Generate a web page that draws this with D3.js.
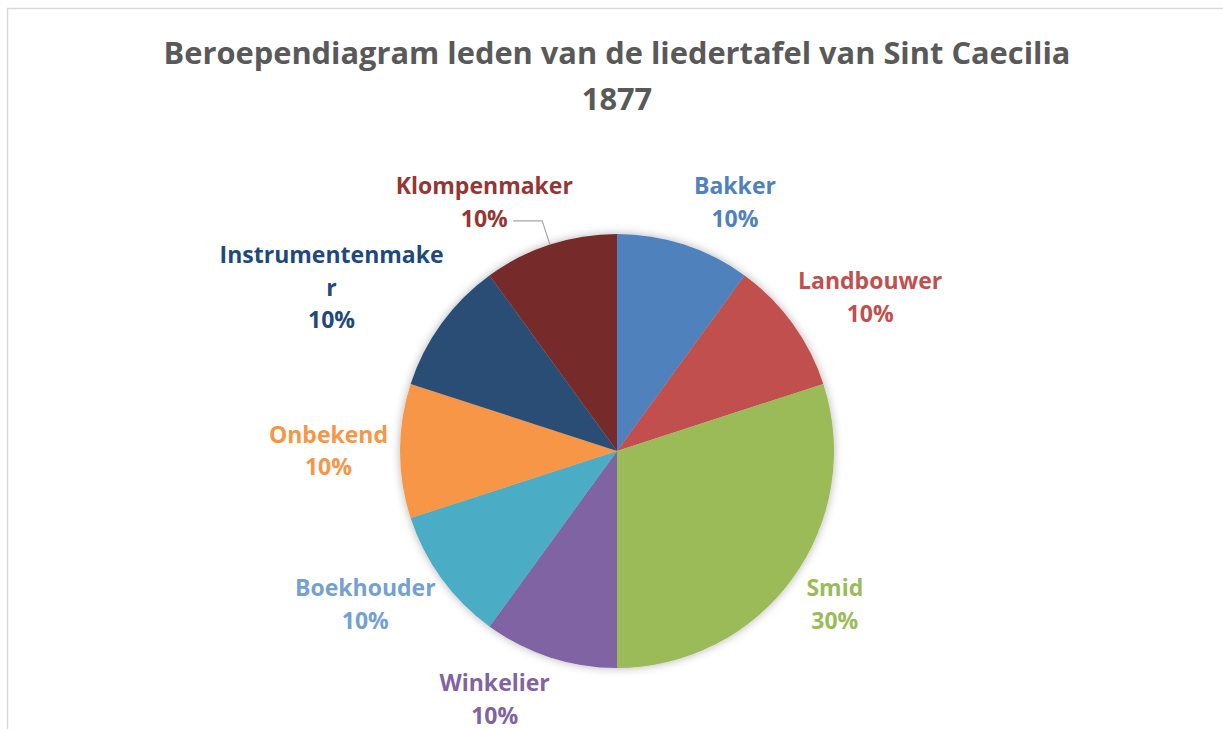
<!DOCTYPE html>
<html>
<head>
<meta charset="utf-8">
<script src="https://cdn.jsdelivr.net/npm/d3@7"></script>
<style>
  body { margin: 0; background: #fff; }
  svg { display: block; font-family: "Open Sans", "Noto Sans", sans-serif; font-weight: bold; }
</style>
</head>
<body>
<div id="chart"></div>
<script>
let categories = ['Bakker','Landbouwer','Smid','Winkelier','Boekhouder','Onbekend','Instrumentenmaker','Klompenmaker'];
let counts = [1,1,3,1,1,1,1,1];
let sliceColors = ['#4F81BD','#C0504D','#9BBB59','#8064A2','#4BACC6','#F79646','#2C4D75','#772C2A'];
let labelColors = ['#4F81BD','#C0504D','#9BBB59','#8064A2','#75A0D2','#F79646','#1F497D','#943634'];
let titleLines = ['Beroependiagram leden van de liedertafel van Sint Caecilia','1877'];
let leaders = ['Klompenmaker'];

let width = 1223,
	height = 729,
	cx = 617,
	cy = 451,
	radius = 217,
	labelR = 229,
	lineH = 32.5,
	wrapW = 226,
	titleW = 907;

let svg = d3.select('#chart').append('svg')
	.attr('width', width)
	.attr('height', height);

// chart frame
svg.append('rect')
	.attr('x', 7.5).attr('y', 8.5)
	.attr('width', width).attr('height', height)
	.attr('fill', 'none')
	.attr('stroke', '#d9d9d9')
	.attr('stroke-width', 1.5);

let title = svg.append('text')
	.attr('text-anchor', 'middle')
	.attr('fill', '#595959')
	.style('font-size', '30px');
title.selectAll('tspan')
	.data(titleLines)
	.enter().append('tspan')
		.attr('x', 617)
		.attr('y', (d, i) => 64 + i * 46)
		.text(d => d);
// scale the title so the first line spans the same width as the original
let tw = title.select('tspan').node().getComputedTextLength();
title.style('font-size', (30 * titleW / tw) + 'px');

let defs = svg.append('defs');
let glow = defs.append('filter').attr('id', 'glow')
	.attr('x', '-20%').attr('y', '-20%').attr('width', '140%').attr('height', '140%');
glow.append('feGaussianBlur').attr('in', 'SourceAlpha').attr('stdDeviation', 5).attr('result', 'b');
glow.append('feComponentTransfer').attr('in', 'b').attr('result', 's')
	.append('feFuncA').attr('type', 'linear').attr('slope', 0.3);
let merge = glow.append('feMerge');
merge.append('feMergeNode').attr('in', 's');
merge.append('feMergeNode').attr('in', 'SourceGraphic');

let pie = d3.pie().sort(null).value(d => d);
let arcs = pie(counts);
let total = d3.sum(counts);
let arc = d3.arc().innerRadius(0).outerRadius(radius);

let g = svg.append('g').attr('transform', `translate(${cx},${cy})`);

g.append('g').attr('filter', 'url(#glow)')
	.selectAll('path')
	.data(arcs)
	.enter().append('path')
		.attr('d', arc)
		.attr('fill', (d, i) => sliceColors[i]);

// split a label into lines no wider than wrapW
function wrap(word, probe) {
	let lines = [], cur = '';
	for (let ch of word) {
		probe.text(cur + ch);
		if (cur && probe.node().getComputedTextLength() > wrapW) { lines.push(cur); cur = ch; }
		else cur += ch;
	}
	lines.push(cur);
	return lines;
}

let labels = g.append('g').style('font-size', '23px');
let probe = labels.append('text');

arcs.forEach((d, i) => {
	let a = (d.startAngle + d.endAngle) / 2,
		s = Math.sin(a),
		c = Math.cos(a);
	let lines = wrap(categories[i], probe);
	lines.push(d3.format('.0%')(d.value / total));
	let t = labels.append('text')
		.attr('text-anchor', 'middle')
		.attr('fill', labelColors[i]);
	let spans = t.selectAll('tspan').data(lines).enter().append('tspan').text(l => l);
	let w = d3.max(spans.nodes(), n => n.getComputedTextLength());
	let h = lines.length * lineH;
	let x = labelR * s + s * w / 2 + Math.sign(s) * (1 - Math.abs(s)) * 50,
		y = -labelR * c - c * h / 2;
	spans.attr('x', x)
		.attr('y', (l, j) => y - (lines.length - 1) * lineH / 2 + j * lineH + 8);

	if (leaders.includes(categories[i])) {
		let last = spans.nodes()[lines.length - 1].getBBox();
		let p0 = [radius * s, -radius * c],
			p1 = [(radius + 25) * s, -(radius + 25) * c],
			p2 = [last.x + last.width + 5, p1[1]];
		g.append('polyline')
			.attr('points', [p2, p1, p0].map(p => p.join(',')).join(' '))
			.attr('fill', 'none')
			.attr('stroke', '#a6a6a6')
			.attr('stroke-width', 1.2);
	}
});
probe.remove();
</script>
</body>
</html>
